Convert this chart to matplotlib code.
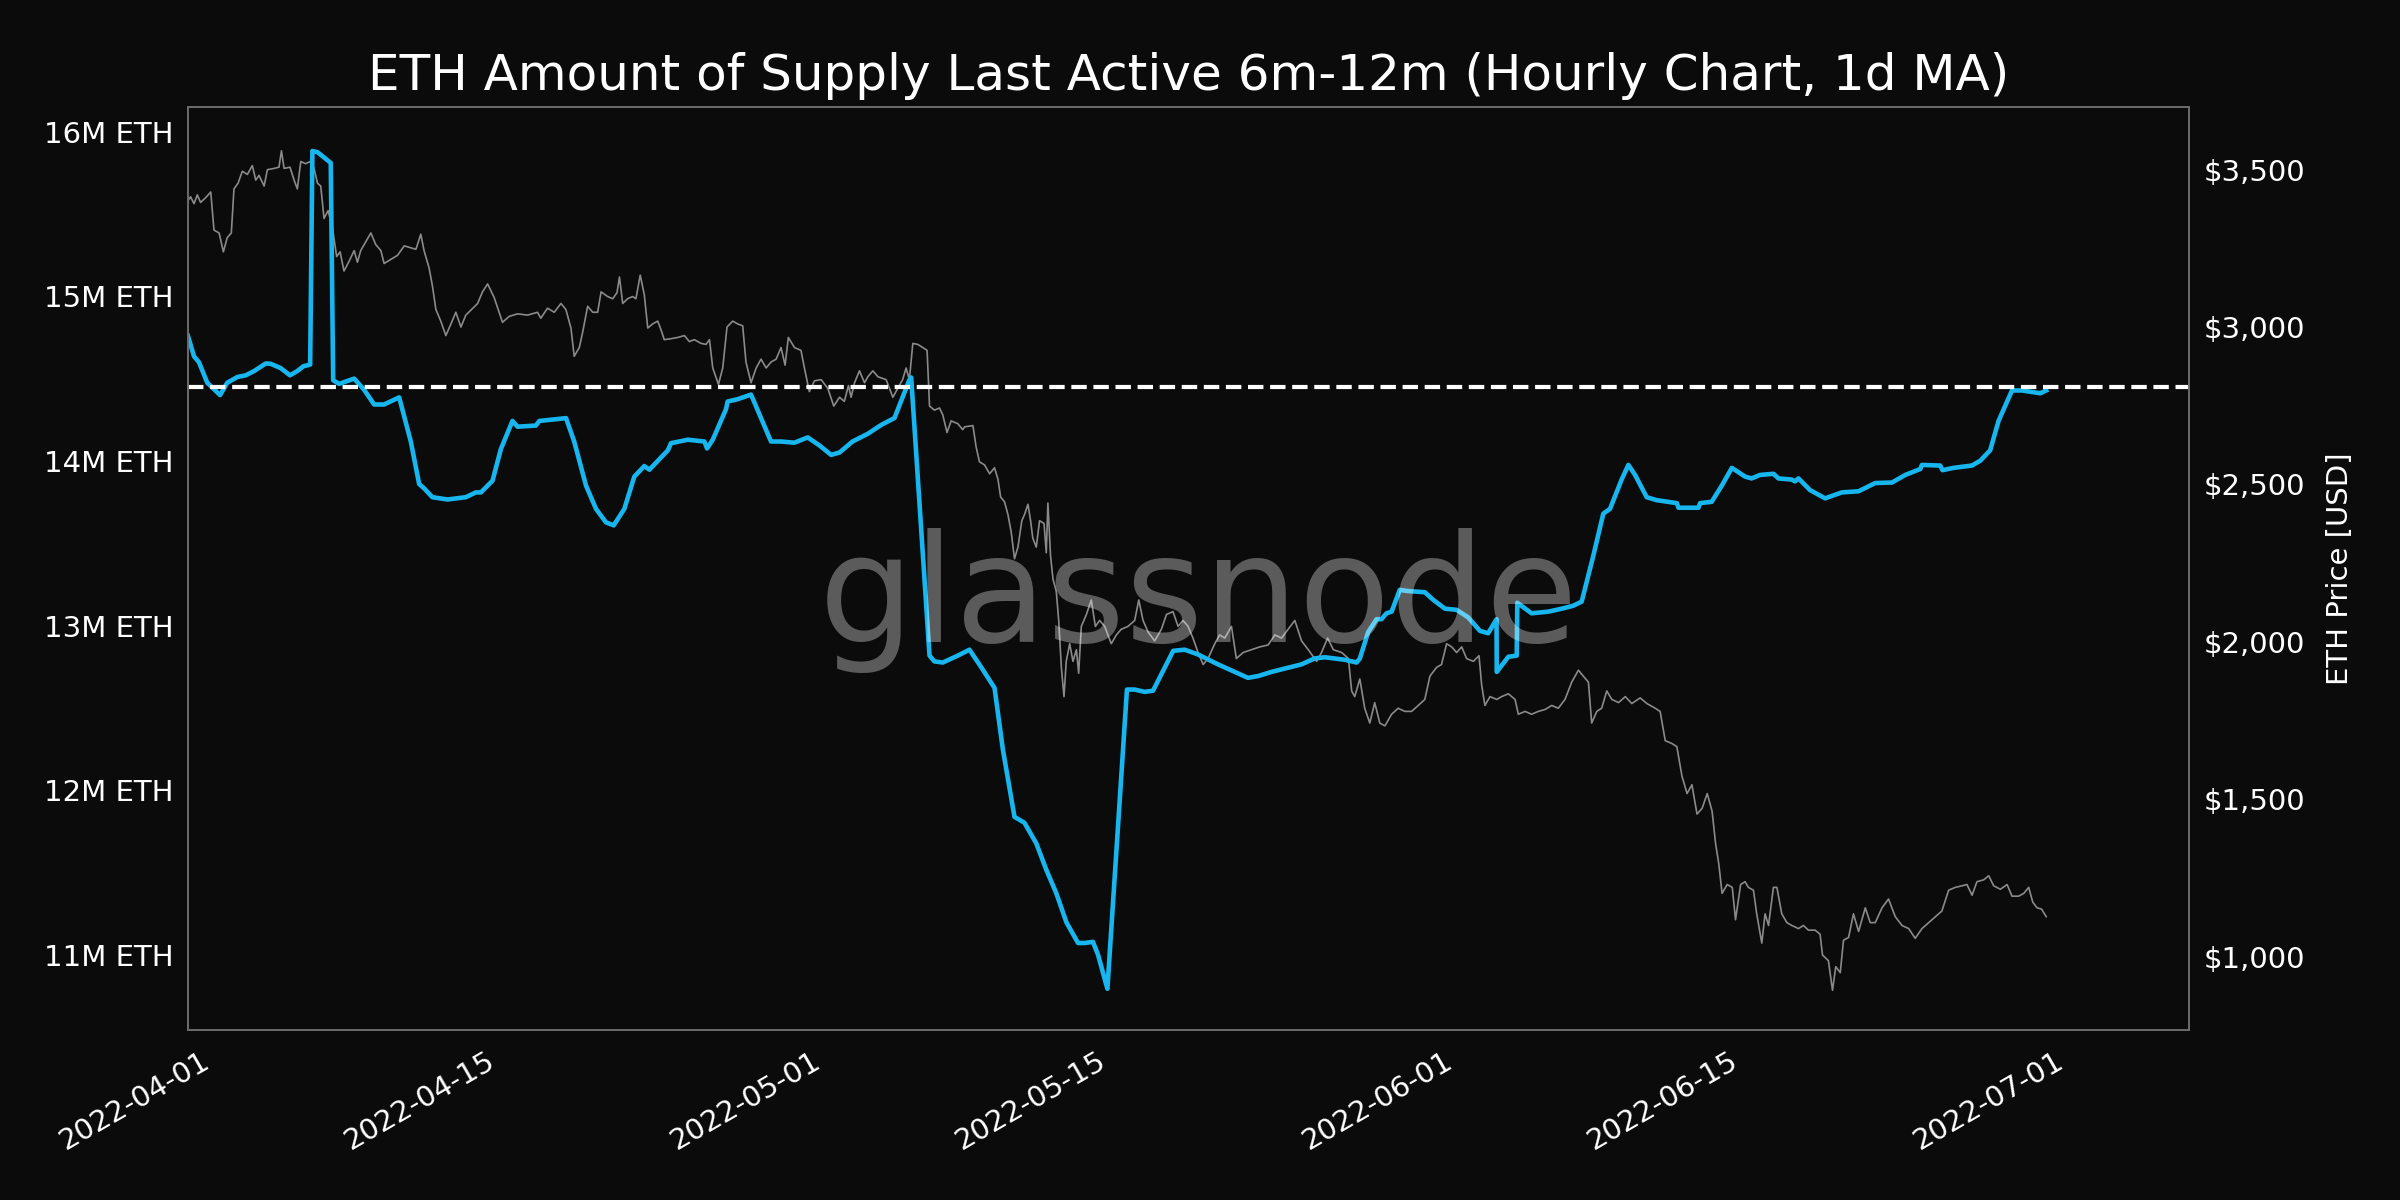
import pandas as pd
import matplotlib
matplotlib.use('Agg')
import matplotlib.pyplot as plt
import matplotlib.dates as mdates
from matplotlib.ticker import FuncFormatter

start = pd.Timestamp('2022-04-01')  # day offsets below are counted from here

# supply last active 6m-12m (M ETH), (day offset, value)
supply_apr = [(-1.32, 14.76), (-1.02, 14.635), (-0.78, 14.60), (-0.37, 14.475), (0.26, 14.40), (0.61, 14.475),
              (1.11, 14.51), (1.52, 14.52), (1.93, 14.546), (2.50, 14.592), (2.74, 14.59), (3.23, 14.564),
              (3.69, 14.52), (4.05, 14.546), (4.35, 14.575), (4.68, 14.585), (4.79, 15.882), (5.04, 15.875),
              (5.69, 15.81), (5.81, 14.49), (6.10, 14.468), (6.84, 14.50), (7.33, 14.432), (7.82, 14.343),
              (8.31, 14.343), (9.05, 14.386), (9.62, 14.118), (10.03, 13.86), (10.27, 13.834), (10.68, 13.78),
              (11.42, 13.766), (12.32, 13.78), (12.81, 13.809), (13.06, 13.809), (13.63, 13.88), (14.04, 14.072),
              (14.61, 14.243), (14.86, 14.208), (15.76, 14.215), (15.93, 14.243), (17.24, 14.26), (17.64, 14.118),
              (18.22, 13.85), (18.71, 13.709), (19.20, 13.627), (19.58, 13.609), (20.10, 13.709), (20.59, 13.905),
              (21.08, 13.969), (21.33, 13.947), (22.24, 14.065), (22.39, 14.108), (23.22, 14.129), (24.03, 14.118),
              (24.16, 14.076), (24.44, 14.129), (25.09, 14.314), (25.17, 14.361), (25.66, 14.375), (26.32, 14.403),
              (27.30, 14.118), (27.79, 14.118), (28.45, 14.111), (29.10, 14.143), (29.68, 14.094)]
supply_may = [(30.25, 14.037), (30.66, 14.051), (31.30, 14.118), (32.05, 14.165), (32.70, 14.218), (33.36, 14.261),
              (34.09, 14.492), (34.18, 14.507), (35.08, 12.818), (35.32, 12.783), (35.73, 12.776), (36.47, 12.818),
              (37.04, 12.854), (37.62, 12.747), (38.27, 12.622), (38.68, 12.248), (39.25, 11.839), (39.74, 11.803),
              (40.32, 11.678), (40.81, 11.518), (41.30, 11.376), (41.80, 11.198), (42.37, 11.073), (42.69, 11.073),
              (43.10, 11.080), (43.35, 11.002), (43.81, 10.795), (44.77, 12.612), (45.15, 12.612), (45.64, 12.598),
              (46.05, 12.605), (46.63, 12.747), (47.04, 12.847), (47.60, 12.854), (48.26, 12.825), (49.24, 12.765),
              (50.06, 12.719), (50.71, 12.683), (51.21, 12.694), (51.86, 12.719), (53.34, 12.765), (53.98, 12.801),
              (54.48, 12.808), (55.46, 12.793), (56.04, 12.776), (56.20, 12.80), (56.61, 12.961), (57.02, 13.039),
              (57.26, 13.039), (57.51, 13.075), (57.76, 13.085), (58.16, 13.217), (58.57, 13.21), (59.39, 13.203),
              (59.80, 13.157)]
supply_jun = [(60.38, 13.103), (60.95, 13.096), (61.52, 13.05), (62.10, 12.968), (62.50, 12.954), (62.91, 13.039),
              (62.92, 12.719), (63.49, 12.811), (63.90, 12.818), (63.93, 13.139), (64.63, 13.075), (65.45, 13.085),
              (66.11, 13.103), (66.68, 13.121), (67.09, 13.146), (67.66, 13.424), (68.15, 13.68), (68.48, 13.709),
              (69.05, 13.887), (69.38, 13.976), (69.71, 13.915), (70.28, 13.78), (70.77, 13.762), (71.76, 13.744),
              (71.84, 13.716), (72.82, 13.716), (72.90, 13.744), (73.47, 13.752), (73.97, 13.851), (74.46, 13.958),
              (75.11, 13.905), (75.43, 13.894), (75.84, 13.915), (76.50, 13.922), (76.75, 13.894), (77.40, 13.887),
              (77.56, 13.876), (77.73, 13.894), (78.30, 13.823), (79.04, 13.773), (79.86, 13.809), (80.68, 13.816),
              (81.50, 13.866), (82.32, 13.869), (82.97, 13.915), (83.71, 13.951), (83.79, 13.976), (84.69, 13.972),
              (84.80, 13.944), (85.34, 13.958), (86.24, 13.972), (86.65, 14.001), (87.14, 14.065), (87.55, 14.243),
              (88.21, 14.428), (88.70, 14.428), (89.60, 14.411), (89.89, 14.428)]

# ETH price (USD), (day offset, value)
price_apr = [(-1.32, 3401), (-1.19, 3414), (-1.02, 3392), (-0.86, 3420), (-0.70, 3396), (-0.45, 3411), (-0.20, 3429),
             (-0.04, 3308), (0.21, 3299), (0.42, 3239), (0.61, 3284), (0.81, 3299), (0.94, 3439), (1.14, 3457),
             (1.35, 3495), (1.60, 3485), (1.84, 3513), (2.01, 3467), (2.17, 3482), (2.42, 3448), (2.58, 3500),
             (2.91, 3504), (3.15, 3508), (3.27, 3560), (3.40, 3504), (3.69, 3508), (3.89, 3467), (4.05, 3439),
             (4.22, 3526), (4.46, 3519), (4.68, 3526), (4.87, 3504), (5.04, 3457), (5.20, 3448), (5.36, 3345),
             (5.56, 3370), (5.77, 3317), (5.98, 3224), (6.15, 3239), (6.34, 3178), (6.59, 3209), (6.84, 3243),
             (7.00, 3206), (7.16, 3243), (7.41, 3271), (7.66, 3299), (7.90, 3262), (8.15, 3243), (8.31, 3202),
             (8.64, 3215), (8.97, 3228), (9.30, 3258), (9.62, 3252), (9.87, 3247), (10.11, 3295), (10.27, 3243),
             (10.52, 3187), (10.68, 3131), (10.85, 3056), (11.09, 3019), (11.34, 2973), (11.59, 3010), (11.83, 3047),
             (12.08, 3000), (12.32, 3038), (12.60, 3056), (12.90, 3075), (13.14, 3112), (13.39, 3137), (13.71, 3094),
             (14.12, 3015), (14.45, 3034), (14.86, 3042), (15.35, 3038), (15.84, 3047), (16.00, 3028), (16.33, 3060),
             (16.66, 3047), (16.99, 3075), (17.23, 3056), (17.48, 2997), (17.64, 2907), (17.89, 2935), (18.05, 2982),
             (18.30, 3066), (18.55, 3047), (18.79, 3047), (18.96, 3112), (19.28, 3097), (19.53, 3090), (19.74, 3109),
             (19.86, 3159), (20.02, 3075), (20.26, 3090), (20.51, 3097), (20.67, 3090), (20.88, 3165), (21.08, 3103),
             (21.25, 2997), (21.49, 3010), (21.74, 3019), (21.93, 2986), (22.06, 2960), (22.39, 2963), (22.72, 2967),
             (23.05, 2973), (23.29, 2954), (23.54, 2960), (23.87, 2948), (24.11, 2945), (24.28, 2960), (24.44, 2870),
             (24.72, 2818), (24.93, 2870), (25.14, 3000), (25.42, 3019), (25.66, 3010), (25.91, 3004), (26.07, 2889),
             (26.32, 2823), (26.57, 2870), (26.81, 2898), (27.06, 2870), (27.30, 2889), (27.55, 2898), (27.79, 2935),
             (27.99, 2879), (28.15, 2967), (28.45, 2935), (28.77, 2926), (28.94, 2870), (29.18, 2795), (29.43, 2829),
             (29.76, 2833)]
price_may = [(30.09, 2805), (30.38, 2749), (30.66, 2777), (30.90, 2764), (31.10, 2814), (31.23, 2777), (31.40, 2823),
             (31.64, 2861), (31.89, 2823), (32.05, 2842), (32.30, 2861), (32.55, 2842), (32.95, 2833), (33.28, 2777),
             (33.52, 2805), (33.76, 2833), (33.93, 2870), (34.09, 2833), (34.26, 2948), (34.50, 2945), (34.75, 2935),
             (34.96, 2926), (35.08, 2749), (35.32, 2736), (35.57, 2743), (35.73, 2721), (35.94, 2665), (36.14, 2702),
             (36.47, 2693), (36.71, 2674), (36.80, 2683), (37.21, 2687), (37.37, 2618), (37.53, 2572), (37.78, 2562),
             (38.03, 2534), (38.27, 2553), (38.44, 2516), (38.57, 2460), (38.76, 2445), (38.93, 2404), (39.09, 2348),
             (39.25, 2264), (39.42, 2301), (39.61, 2385), (39.74, 2404), (39.91, 2437), (40.04, 2385), (40.15, 2329),
             (40.32, 2301), (40.48, 2385), (40.70, 2376), (40.81, 2283), (40.89, 2441), (41.02, 2273), (41.14, 2199),
             (41.30, 2161), (41.42, 2068), (41.55, 1919), (41.68, 1826), (41.79, 1938), (41.96, 1994), (42.12, 1938),
             (42.29, 1975), (42.40, 1900), (42.53, 2049), (42.78, 2087), (43.02, 2133), (43.22, 2049), (43.43, 2068),
             (43.68, 2049), (44.00, 1994), (44.25, 2022), (44.49, 2040), (44.82, 2049), (45.15, 2068), (45.35, 2133),
             (45.56, 2068), (45.81, 2031), (46.13, 2003), (46.46, 2040), (46.71, 2087), (47.03, 2096), (47.28, 2049),
             (47.52, 2068), (47.77, 2049), (48.01, 2012), (48.26, 1966), (48.51, 1928), (48.75, 1947), (49.08, 1994),
             (49.32, 2022), (49.57, 2012), (49.90, 2049), (50.14, 1947), (50.47, 1966), (50.88, 1975), (51.29, 1984),
             (51.70, 1990), (52.03, 2022), (52.36, 2012), (52.68, 2040), (53.01, 2068), (53.34, 2003), (53.67, 1975),
             (54.08, 1938), (54.32, 1966), (54.62, 2012), (54.90, 1975), (55.31, 1966), (55.64, 1947), (55.80, 1844),
             (55.95, 1826), (56.20, 1882), (56.44, 1789), (56.69, 1742), (56.93, 1807), (57.18, 1742), (57.43, 1733),
             (57.76, 1770), (58.08, 1789), (58.41, 1779), (58.74, 1779), (59.07, 1798), (59.39, 1817), (59.64, 1891),
             (59.97, 1919)]
price_jun = [(60.21, 1928), (60.46, 1994), (60.71, 1984), (60.95, 1966), (61.20, 1984), (61.44, 1947), (61.77, 1938),
             (62.05, 1956), (62.18, 1863), (62.34, 1798), (62.59, 1826), (62.92, 1817), (63.16, 1826), (63.49, 1835),
             (63.82, 1817), (63.98, 1770), (64.31, 1779), (64.63, 1770), (64.96, 1779), (65.29, 1785), (65.62, 1798),
             (65.94, 1789), (66.27, 1817), (66.60, 1872), (66.93, 1910), (67.17, 1891), (67.42, 1872), (67.58, 1742),
             (67.83, 1779), (68.07, 1789), (68.32, 1844), (68.57, 1817), (68.90, 1807), (69.23, 1826), (69.55, 1804),
             (69.96, 1822), (70.29, 1804), (70.70, 1789), (70.94, 1779), (71.19, 1686), (71.52, 1677), (71.76, 1667),
             (72.01, 1574), (72.26, 1518), (72.50, 1546), (72.75, 1453), (73.00, 1471), (73.25, 1518), (73.49, 1462),
             (73.66, 1360), (73.82, 1294), (73.98, 1201), (74.23, 1229), (74.48, 1220), (74.64, 1117), (74.89, 1229),
             (75.11, 1238), (75.27, 1220), (75.52, 1211), (75.68, 1136), (75.93, 1043), (76.09, 1136), (76.26, 1099),
             (76.50, 1220), (76.67, 1220), (76.91, 1136), (77.16, 1108), (77.40, 1099), (77.73, 1089), (77.97, 1099),
             (78.22, 1084), (78.55, 1084), (78.79, 1071), (78.91, 1005), (79.20, 987), (79.40, 893), (79.56, 968),
             (79.78, 949), (79.94, 1052), (80.19, 1061), (80.43, 1136), (80.68, 1080), (81.01, 1155), (81.25, 1108),
             (81.50, 1108), (81.83, 1155), (82.15, 1183), (82.48, 1127), (82.81, 1099), (83.14, 1089), (83.46, 1058),
             (83.79, 1089), (84.12, 1108), (84.45, 1127), (84.77, 1145), (85.10, 1211), (85.43, 1220), (85.76, 1225),
             (86.00, 1229), (86.25, 1195), (86.49, 1238), (86.82, 1244), (87.07, 1257), (87.31, 1225), (87.64, 1214),
             (87.97, 1229), (88.21, 1192), (88.54, 1192), (88.79, 1201), (89.03, 1220), (89.23, 1173), (89.44, 1155),
             (89.66, 1151), (89.89, 1127)]

reference_level = 14.449  # dashed line, M ETH
x_end_day = 96.9

title = 'ETH Amount of Supply Last Active 6m-12m (Hourly Chart, 1d MA)'


def to_frame(points):
    df = pd.DataFrame(points, columns=['day', 'value'])
    df['date'] = start + pd.to_timedelta(df['day'], unit='D')
    return df


supply = to_frame(supply_apr + supply_may + supply_jun)
price = to_frame(price_apr + price_may + price_jun)

BG = '#0b0b0b'
SPINE = '#6a6a6a'

fig = plt.figure(figsize=(16, 8), dpi=150, facecolor=BG)
ax1 = fig.add_axes([0.0783, 0.1417, 0.8338, 0.7691])
ax2 = ax1.twinx()
ax1.set_zorder(ax2.get_zorder() + 1)
ax1.patch.set_visible(False)
ax2.set_facecolor(BG)

ax2.plot(price['date'], price['value'], color='#8a8a8a', linewidth=0.8)
ax1.plot(supply['date'], supply['value'], color='#17b6ef', linewidth=2.2)
ax1.axhline(reference_level, color='white', linewidth=2, linestyle='--')

ax1.set_ylim(10.545, 16.149)
ax2.set_ylim(767, 3699)
ax1.set_xlim(supply['date'].iloc[0], start + pd.Timedelta(days=x_end_day))

ax1.yaxis.set_major_formatter(FuncFormatter(lambda v, _: f'{v:.0f}M ETH'))
ax2.yaxis.set_major_formatter(FuncFormatter(lambda v, _: f'${v:,.0f}'))
ax2.set_yticks([1000, 1500, 2000, 2500, 3000, 3500])
ax1.set_yticks([11, 12, 13, 14, 15, 16])

ax1.xaxis.set_major_locator(mdates.DayLocator(bymonthday=[1, 15]))
ax1.xaxis.set_major_formatter(mdates.DateFormatter('%Y-%m-%d'))

for ax in (ax1, ax2):
    ax.tick_params(colors='white', labelsize=14, length=0, pad=7)
    for s in ax.spines.values():
        s.set_color(SPINE)
        s.set_linewidth(0.9)
ax1.tick_params(axis='x', pad=8)
for lbl in ax1.get_xticklabels():
    lbl.set_rotation(30)
    lbl.set_ha('right')

ax2.set_ylabel('ETH Price [USD]', color='white', fontsize=14, labelpad=10)
ax1.set_title(title, color='white', fontsize=24, pad=8)

# watermark sits on top of the lines
ax1.text(0.505, 0.42, 'glassnode', transform=ax1.transAxes, ha='center', va='baseline',
         fontsize=72, color='white', alpha=0.33, zorder=10)

fig.savefig('out.png', dpi=150, facecolor=BG)
